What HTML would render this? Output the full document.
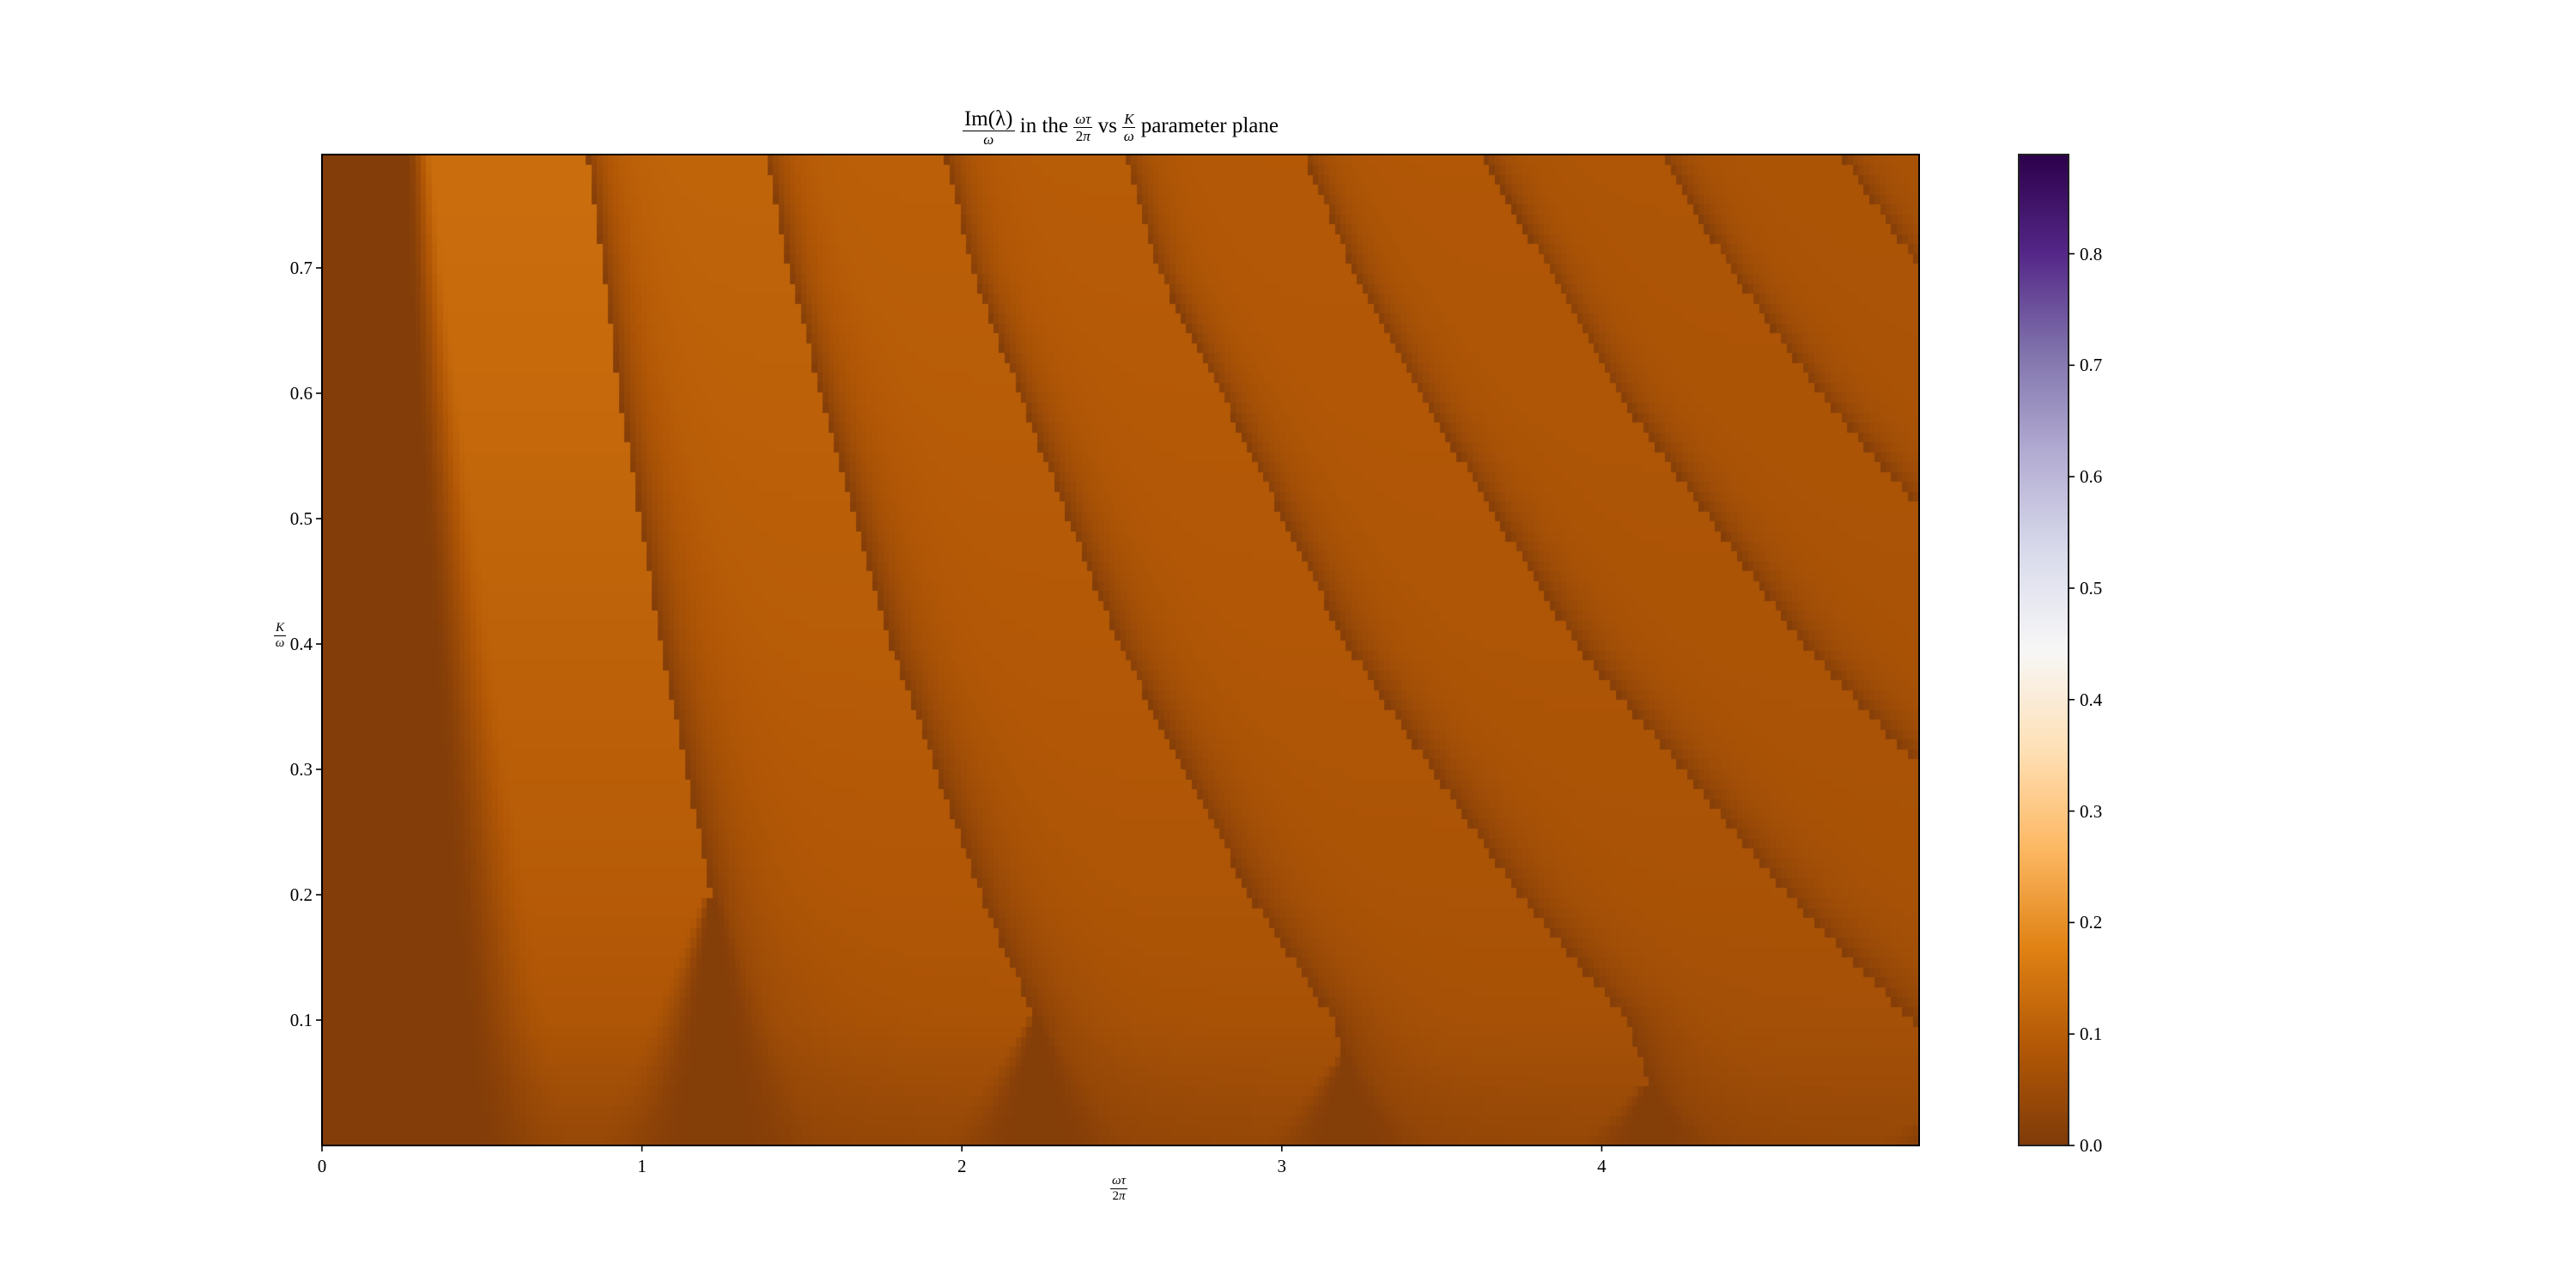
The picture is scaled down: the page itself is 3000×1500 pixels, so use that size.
<!DOCTYPE html>
<html><head><meta charset="utf-8">
<style>
html,body{margin:0;padding:0;background:#fff;}
#root{position:relative;width:3000px;height:1500px;overflow:hidden;font-family:"Liberation Serif",serif;color:#000;}
.abs{position:absolute;}
.frac{display:inline-flex;flex-direction:column;align-items:center;vertical-align:middle;line-height:1;}
.frac .num{border-bottom:1.5px solid #000;padding:0 2px 1px 2px;}
.frac .den{padding-top:1px;}
.tl{position:absolute;font-size:21px;}
</style></head>
<body>
<div id="root">
  <div class="abs" style="left:1100px;top:126px;width:410px;text-align:center;font-size:25px;white-space:nowrap;">
    <span class="frac" style="font-size:25px;"><span class="num">Im(λ)</span><span class="den" style="font-size:17px;font-style:italic;">ω</span></span>
    in the
    <span class="frac" style="font-size:17px;"><span class="num"><i>ωτ</i></span><span class="den">2<i>π</i></span></span>
    vs
    <span class="frac" style="font-size:17px;"><span class="num"><i>K</i></span><span class="den"><i>ω</i></span></span>
    parameter plane
  </div>
  <canvas id="heat" width="1860" height="1154" class="abs" style="left:375px;top:180px;"></canvas>
  <svg id="axes" class="abs" style="left:0;top:0;" width="3000" height="1500">
    <defs>
      <linearGradient id="puor" x1="0" y1="1" x2="0" y2="0">
        <stop offset="0" stop-color="#7f3b08"/><stop offset="0.1" stop-color="#b35806"/>
        <stop offset="0.2" stop-color="#e08214"/><stop offset="0.3" stop-color="#fdb863"/>
        <stop offset="0.4" stop-color="#fee0b6"/><stop offset="0.5" stop-color="#f7f7f7"/>
        <stop offset="0.6" stop-color="#d8daeb"/><stop offset="0.7" stop-color="#b2abd2"/>
        <stop offset="0.8" stop-color="#8073ac"/><stop offset="0.9" stop-color="#542788"/>
        <stop offset="1" stop-color="#2d004b"/>
      </linearGradient>
    </defs>
    <rect x="375" y="180" width="1860" height="1154" fill="none" stroke="#000" stroke-width="2"/>
    <rect x="2351" y="180" width="58" height="1154" fill="url(#puor)" stroke="#222" stroke-width="2"/>
  </svg>
  <div class="abs" style="left:1283px;top:1368px;width:40px;text-align:center;">
    <span class="frac" style="font-size:15px;"><span class="num"><i>ωτ</i></span><span class="den">2<i>π</i></span></span>
  </div>
  <div class="abs" style="left:316px;top:724px;width:20px;text-align:center;">
    <span class="frac" style="font-size:15px;"><span class="num"><i>K</i></span><span class="den"><i>ω</i></span></span>
  </div>
  <div id="labels"></div>
</div>
<script>
// ---- data ----
const kLevels = [0.79, 0.7, 0.6, 0.4, 0.2, 0.1, 0.0];
const firstEdge = [0.29, 0.30, 0.32, 0.37, 0.43, 0.46, 0.50];
const curve2 = [0.83, 0.88, 0.93, 1.06, 1.22, 1.30, 1.36];
const curve3 = [1.39, 1.46, 1.56, 1.78, 2.06, 2.23, 2.33];
const curve4 = [1.95, 2.03, 2.18, 2.49, 2.90, 3.16, 3.28];
const curve5 = [2.51, 2.61, 2.81, 3.20, 3.74, 4.08, 4.22];
const curve6 = [3.07, 3.22, 3.43, 3.92, 4.58, 4.97, 5.15];
const curve7 = [3.63, 3.83, 4.05, 4.63, 5.37, 5.85, 6.05];
const curve8 = [4.19, 4.40, 4.68, 5.36, 6.2, 6.7, 6.9];
const curve9 = [4.75, 4.99, 5.30, 6.05, 7.0, 7.6, 7.8];
const curveEndK = [0.2, 0.1, 0.07, 0.05, 0.035, 0.025, 0.02, 0.015];
const vHalfWidth = [0.24, 0.2, 0.18, 0.16, 0.15, 0.14, 0.13, 0.13];
const band1Peak = [0.135, 0.130, 0.125, 0.110, 0.095, 0.080, 0.040];
const band2Peak = [0.115, 0.112, 0.108, 0.098, 0.085, 0.075, 0.040];
const band3Peak = [0.105, 0.102, 0.098, 0.090, 0.080, 0.070, 0.040];
const band4Peak = [0.097, 0.095, 0.092, 0.085, 0.075, 0.068, 0.040];
const band5Peak = [0.090, 0.088, 0.086, 0.080, 0.072, 0.065, 0.040];
const band6Peak = [0.085, 0.083, 0.081, 0.076, 0.070, 0.063, 0.040];
const band7Peak = [0.080, 0.079, 0.077, 0.073, 0.068, 0.062, 0.040];
const band8Peak = [0.076, 0.075, 0.074, 0.070, 0.066, 0.060, 0.040];
const band9Peak = [0.073, 0.072, 0.071, 0.068, 0.064, 0.058, 0.040];
const darkValue = 0.005;
const xTicks = [0, 1, 2, 3, 4];
const yTicks = [0.1, 0.2, 0.3, 0.4, 0.5, 0.6, 0.7];
const cbTicks = [0.0, 0.1, 0.2, 0.3, 0.4, 0.5, 0.6, 0.7, 0.8];
const vMax = 0.889;

// ---- axes ----
const PX0 = 375, PW = 1860, PY0 = 180, PH = 1154;
const xMin = 0, xMax = 4.992, kMin = 0, kMax = 0.7904;
const xScale = v => PX0 + (v - xMin) / (xMax - xMin) * PW;
const yScale = v => PY0 + PH - (v - kMin) / (kMax - kMin) * PH;
const cScale = v => 1334 - v / vMax * 1154;

const curves = [curve2, curve3, curve4, curve5, curve6, curve7, curve8, curve9];
const bandPeaks = [band1Peak, band2Peak, band3Peak, band4Peak, band5Peak, band6Peak, band7Peak, band8Peak, band9Peak];

function interpK(arr, K) {
  if (K >= kLevels[0]) return arr[0];
  for (let i = 0; i < kLevels.length - 1; i++) {
    const a = kLevels[i], b = kLevels[i + 1];
    if (K <= a && K >= b) { const t = (a - K) / (a - b); return arr[i] + (arr[i + 1] - arr[i]) * t; }
  }
  return arr[arr.length - 1];
}
function sstep(t) { t = Math.max(0, Math.min(1, t)); return t * t * (3 - 2 * t); }

function valueAt(x, K) {
  const low = (kMax - K) / kMax;
  const e0 = interpK(firstEdge, K);
  // effective boundary positions: below a curve's end, boundary stays at the V apex
  const pos = curves.map((c, i) => K >= curveEndK[i] ? interpK(c, K) : interpK(c, curveEndK[i]));
  let b = 0;
  for (let i = 0; i < pos.length; i++) if (x >= pos[i]) b = i + 1;
  const peak = interpK(bandPeaks[Math.min(b, bandPeaks.length - 1)], K);
  const w = 0.055 + 0.06 * low;
  let v;
  if (b === 0) {
    const rw = 0.09 + 0.22 * low;
    v = darkValue + (peak - darkValue) * sstep((x - (e0 - 0.03)) / rw);
  } else {
    const i = b - 1;
    let we = w;
    if (K < curveEndK[i]) we = w + vHalfWidth[i] * (1 - K / curveEndK[i]) * 0.6;
    v = peak - (peak - darkValue - 0.004) * Math.exp(-(x - pos[i]) / we);
  }
  for (let i = 0; i < curves.length; i++) {
    if (K < curveEndK[i]) {
      const ax = pos[i];
      const hw = vHalfWidth[i] * (1 - K / curveEndK[i]);
      const d = Math.abs(x - ax);
      const f = 1 - sstep((d - hw * 0.3) / (hw * 1.1 + 0.03));
      v = v + (darkValue + 0.004 - v) * f;
    }
  }
  return v;
}

const cmapStops = ["#7f3b08","#b35806","#e08214","#fdb863","#fee0b6","#f7f7f7","#d8daeb","#b2abd2","#8073ac","#542788","#2d004b"]
  .map(h => [parseInt(h.substr(1,2),16), parseInt(h.substr(3,2),16), parseInt(h.substr(5,2),16)]);
function cmap(v) {
  let t = Math.max(0, Math.min(1, v / vMax)) * 10;
  const i = Math.min(9, Math.floor(t)), f = t - i;
  const a = cmapStops[i], c = cmapStops[i + 1];
  return `rgb(${Math.round(a[0]+(c[0]-a[0])*f)},${Math.round(a[1]+(c[1]-a[1])*f)},${Math.round(a[2]+(c[2]-a[2])*f)})`;
}

// ---- heatmap cells ----
const NX = 290, NY = 100;
const ctx = document.getElementById('heat').getContext('2d');
for (let j = 0; j < NY; j++) {
  const k0 = kMin + (kMax - kMin) * j / NY, k1 = kMin + (kMax - kMin) * (j + 1) / NY;
  const K = (k0 + k1) / 2;
  const yTop = yScale(k1) - PY0, yBot = yScale(k0) - PY0;
  for (let i = 0; i < NX; i++) {
    const x0 = xMin + (xMax - xMin) * i / NX, x1 = xMin + (xMax - xMin) * (i + 1) / NX;
    const v = valueAt((x0 + x1) / 2, K);
    ctx.fillStyle = cmap(v);
    const xl = Math.floor(xScale(x0) - PX0), xr = Math.ceil(xScale(x1) - PX0);
    ctx.fillRect(xl, Math.floor(yTop), xr - xl, Math.ceil(yBot) - Math.floor(yTop));
  }
}

// ---- ticks & labels ----
const svg = document.getElementById('axes');
const labels = document.getElementById('labels');
const NS = 'http://www.w3.org/2000/svg';
function tickLine(x1, y1, x2, y2, name) {
  const l = document.createElementNS(NS, 'line');
  l.setAttribute('x1', x1); l.setAttribute('y1', y1); l.setAttribute('x2', x2); l.setAttribute('y2', y2);
  l.setAttribute('stroke', '#000'); l.setAttribute('stroke-width', '1.6');
  
  
  svg.appendChild(l);
}
function label(text, left, top, align, name) {
  const d = document.createElement('div');
  d.className = 'tl';
  d.textContent = text;
  d.style.left = left + 'px'; d.style.top = top + 'px';
  d.style.width = '60px'; d.style.textAlign = align;
  
  
  labels.appendChild(d);
}
xTicks.forEach(t => {
  const x = xScale(t);
  tickLine(x, 1334, x, 1341, 'x-tick');
  label(String(t), x - 30, 1346, 'center', 'x-tick-label');
});
yTicks.forEach(t => {
  const y = yScale(t);
  tickLine(368, y, 375, y, 'y-tick');
  label(t.toFixed(1), 304, y - 12, 'right', 'y-tick-label');
});
cbTicks.forEach(t => {
  const y = cScale(t);
  tickLine(2409, y, 2416, y, 'colorbar-tick');
  label(t.toFixed(1), 2422, y - 12, 'left', 'colorbar-tick-label');
});
</script>
</body></html>
